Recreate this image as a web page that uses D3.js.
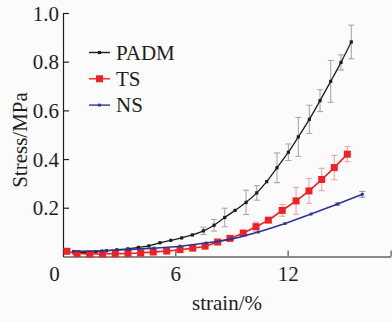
<!DOCTYPE html>
<html>
<head>
<meta charset="utf-8">
<script src="https://cdn.jsdelivr.net/npm/d3@7"></script>
<style>
  html, body { margin: 0; padding: 0; background: #fbfbfb; }
  svg { display: block; }
  text { font-family: "Liberation Serif", "DejaVu Serif", serif; fill: #1e1e1e; }
</style>
</head>
<body>
<div id="chart"></div>
<script>
// strain (%) and stress (MPa)
let padmStrain = [0.59, 1.18, 1.76, 2.32, 2.88, 3.47, 4.03, 4.59, 5.18, 5.76, 6.34, 6.91, 7.50, 8.07,
    8.64, 9.19, 9.78, 10.35, 10.88, 11.43, 12.04, 12.57, 13.16, 13.73, 14.30, 14.85, 15.40];
let padmStress = [0.014, 0.016, 0.019, 0.023, 0.027, 0.031, 0.037, 0.043, 0.056, 0.066, 0.076, 0.088, 0.105, 0.128,
    0.160, 0.189, 0.222, 0.261, 0.307, 0.364, 0.428, 0.491, 0.563, 0.640, 0.719, 0.797, 0.881];
let padmErr = [0, 0, 0, 0, 0, 0, 0, 0, 0, 0, 0, 0, 0.015, 0.024,
    0.038, 0, 0.05, 0.03, 0, 0.061, 0.034, 0.08, 0.058, 0.045, 0.086, 0.031, 0.069];

let tsStrain = [0.21, 0.75, 1.43, 2.11, 2.79, 3.47, 4.15, 4.82, 5.54, 6.25, 6.93, 7.59, 8.26, 8.92,
    9.63, 10.31, 10.97, 11.71, 12.45, 13.14, 13.82, 14.49, 15.19];
let tsStress = [0.021, 0.012, 0.010, 0.010, 0.011, 0.012, 0.014, 0.018, 0.022, 0.028, 0.034, 0.042, 0.059, 0.074,
    0.096, 0.122, 0.149, 0.189, 0.228, 0.269, 0.316, 0.365, 0.420];
let tsErr = [0, 0, 0, 0, 0, 0, 0, 0, 0, 0, 0, 0, 0, 0,
    0, 0.019, 0, 0.024, 0.055, 0.051, 0.046, 0.05, 0.031];

let nsStrain = [0.55, 2.08, 3.47, 4.86, 6.25, 7.64, 9.03, 10.43, 11.86, 13.25, 14.67, 15.99];
let nsStress = [0.021, 0.023, 0.028, 0.034, 0.042, 0.055, 0.072, 0.100, 0.135, 0.174, 0.215, 0.255];
let nsErr = [0, 0, 0, 0, 0, 0, 0, 0, 0, 0, 0.005, 0.012];

let seriesNames = ["PADM", "TS", "NS"];
let xTicks = [0, 6, 12, 17.5];
let yTicks = [0.2, 0.4, 0.6, 0.8, 1.0];

let width = 392;
let height = 322;

let color = d3.scaleOrdinal()
    .domain(seriesNames)
    .range(["#1c1c1c", "#ec2227", "#2b3592"]);

let errColor = d3.scaleOrdinal()
    .domain(seriesNames)
    .range(["#a8a8a8", "#f2a3a3", "#8f93c8"]);

let markerSize = d3.scaleOrdinal()
    .domain(seriesNames)
    .range([3.2, 7, 2.8]);

function toPoints(xs, ys, es) {
    return xs.map(function(x, i) { return { x: x, y: ys[i], e: es[i] }; });
}

let series = [
    { name: "PADM", values: toPoints(padmStrain, padmStress, padmErr) },
    { name: "TS", values: toPoints(tsStrain, tsStress, tsErr) },
    { name: "NS", values: toPoints(nsStrain, nsStress, nsErr) }
];

let x = d3.scaleLinear().domain([0, 17.5]).range([63, 390.6]);
let y = d3.scaleLinear().domain([0, 1]).range([256.4, 13]);

let svg = d3.select("#chart")
    .append("svg")
    .attr("width", width)
    .attr("height", height);

// x axis (grey, ticks pointing up)
let xAxis = svg.append("g")
    .attr("transform", "translate(0," + y(0) + ")")
    .call(d3.axisBottom(x).tickValues(xTicks).tickSizeInner(-6).tickSizeOuter(0).tickFormat(function(d) {
        return d > 17 ? "" : d;
    }));
xAxis.select(".domain").attr("stroke", "#8a8a8a").attr("stroke-width", 2);
xAxis.selectAll(".tick line").attr("stroke", "#555").attr("stroke-width", 1.2);
xAxis.selectAll(".tick text")
    .attr("y", 25)
    .attr("dy", 0)
    .attr("dx", function(d) { return d === 0 ? -9 : 0; })
    .style("font-size", "21px");

// y axis (ticks pointing inward)
let yAxis = svg.append("g")
    .attr("transform", "translate(" + x(0) + ",0)")
    .call(d3.axisLeft(y).tickValues(yTicks).tickSizeInner(-6).tickSizeOuter(0).tickFormat(d3.format(".1f")));
yAxis.select(".domain").attr("stroke", "#1e1e1e").attr("stroke-width", 1.2);
yAxis.selectAll(".tick line").attr("stroke", "#1e1e1e").attr("stroke-width", 1.2);
yAxis.selectAll(".tick text")
    .attr("x", -4)
    .attr("dy", "0.34em")
    .style("font-size", "21px");

svg.append("text")
    .attr("transform", "translate(227,310)")
    .attr("text-anchor", "middle")
    .style("font-size", "21px")
    .text("strain/%");

svg.append("text")
    .attr("transform", "translate(27,140) rotate(-90)")
    .attr("text-anchor", "middle")
    .style("font-size", "21px")
    .text("Stress/MPa");

// error bars
series.forEach(function(s) {
    let bars = svg.append("g")
        .attr("stroke", errColor(s.name))
        .attr("stroke-width", 1.1)
        .selectAll("g")
        .data(s.values.filter(function(d) { return d.e > 0; }))
        .enter().append("g");

    bars.append("line")
        .attr("x1", function(d) { return x(d.x); })
        .attr("x2", function(d) { return x(d.x); })
        .attr("y1", function(d) { return y(d.y - d.e); })
        .attr("y2", function(d) { return y(d.y + d.e); });

    [-1, 1].forEach(function(k) {
        bars.append("line")
            .attr("x1", function(d) { return x(d.x) - 3; })
            .attr("x2", function(d) { return x(d.x) + 3; })
            .attr("y1", function(d) { return y(d.y + k * d.e); })
            .attr("y2", function(d) { return y(d.y + k * d.e); });
    });
});

let line = d3.line()
    .x(function(d) { return x(d.x); })
    .y(function(d) { return y(d.y); })
    .curve(d3.curveMonotoneX);

series.forEach(function(s) {
    svg.append("path")
        .datum(s.values)
        .attr("fill", "none")
        .attr("stroke", color(s.name))
        .attr("stroke-width", s.name === "PADM" ? 1.3 : 1.6)
        .attr("d", line);

    let m = markerSize(s.name);
    svg.append("g")
        .selectAll("rect")
        .data(s.values)
        .enter().append("rect")
        .attr("x", function(d) { return x(d.x) - m / 2; })
        .attr("y", function(d) { return y(d.y) - m / 2; })
        .attr("width", m)
        .attr("height", m)
        .attr("fill", color(s.name));
});

// legend
let legendG = svg.selectAll(".legend")
    .data(seriesNames)
    .enter().append("g")
    .attr("class", "legend")
    .attr("transform", function(d, i) {
        return "translate(89," + (52.5 + i * 26.3) + ")";
    });

legendG.append("line")
    .attr("x1", 0)
    .attr("x2", 21)
    .attr("stroke", function(d) { return color(d); })
    .attr("stroke-width", 1.4);

legendG.append("rect")
    .attr("x", function(d) { return 10.5 - markerSize(d) / 2; })
    .attr("y", function(d) { return -markerSize(d) / 2; })
    .attr("width", function(d) { return markerSize(d); })
    .attr("height", function(d) { return markerSize(d); })
    .attr("fill", function(d) { return color(d); });

legendG.append("text")
    .attr("x", 27)
    .attr("dy", "0.35em")
    .style("font-size", "21px")
    .text(function(d) { return d; });
</script>
</body>
</html>
